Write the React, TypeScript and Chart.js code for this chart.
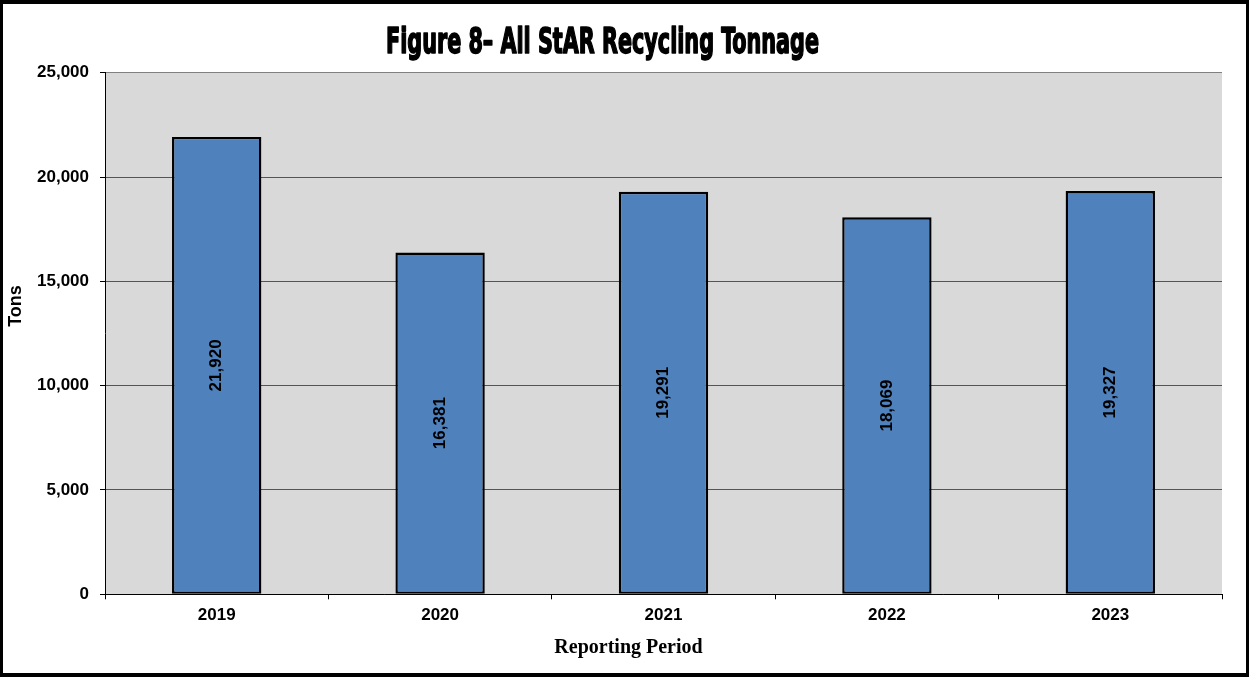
import React, { useEffect, useRef } from "react";
import { Chart, registerables } from "chart.js";

Chart.register(...registerables);

const categories = ["2019", "2020", "2021", "2022", "2023"];
const tonnage = [21920, 16381, 19291, 18069, 19327];
const chartTitle = "Figure 8\u2013 All StAR Recycling Tonnage";
const yAxisTitle = "Tons";
const xAxisTitle = "Reporting Period";
const yMax = 25000;
const yStep = 5000;

const fmt = (v: number) => v.toLocaleString("en-US");

const CANVAS_W = 1243;
const CANVAS_H = 669;

export default function App() {
  const ref = useRef<HTMLCanvasElement | null>(null);

  useEffect(() => {
    document.body.style.margin = "0";
    const canvas = ref.current;
    if (!canvas) return;

    const bgPlugin = {
      id: "plotBg",
      beforeDraw(chart: any) {
        const { ctx, chartArea } = chart;
        ctx.save();
        ctx.fillStyle = "#d9d9d9";
        ctx.fillRect(chartArea.left, chartArea.top, chartArea.right - chartArea.left, chartArea.bottom - chartArea.top);
        ctx.restore();
      },
    };

    const textPlugin = {
      id: "texts",
      afterDraw(chart: any) {
        const ctx = chart.ctx;
        // Title (condensed heavy)
        ctx.save();
        ctx.font = 'bold 35px "Liberation Sans Narrow", "DejaVu Sans Condensed", "DejaVu Sans", sans-serif';
        const w = ctx.measureText(chartTitle).width;
        const sx = 433 / w;
        ctx.translate(599.5, 49);
        ctx.scale(sx, 1);
        ctx.textAlign = "center";
        ctx.textBaseline = "alphabetic";
        ctx.fillStyle = "#000";
        ctx.fillText(chartTitle, 0, 0);
        ctx.lineWidth = 1.6;
        ctx.lineJoin = "round";
        ctx.strokeStyle = "#000";
        ctx.strokeText(chartTitle, 0, 0);
        ctx.restore();

        // Y axis title
        ctx.save();
        ctx.font = 'bold 18px "Liberation Sans", Arial, sans-serif';
        ctx.translate(13, 302);
        ctx.rotate(-Math.PI / 2);
        ctx.textAlign = "center";
        ctx.textBaseline = "middle";
        ctx.fillStyle = "#000";
        ctx.fillText(yAxisTitle, 0, 0);
        ctx.restore();

        // X axis title
        ctx.save();
        ctx.font = 'bold 20px "Liberation Serif", "Times New Roman", serif';
        ctx.textAlign = "center";
        ctx.textBaseline = "middle";
        ctx.fillStyle = "#000";
        ctx.fillText(xAxisTitle, 625.5, 644);
        ctx.restore();
      },
      afterDatasetsDraw(chart: any) {
        const ctx = chart.ctx;
        const meta = chart.getDatasetMeta(0);
        meta.data.forEach((bar: any, i: number) => {
          const p = bar.getProps(["x", "y", "base"], true);
          ctx.save();
          ctx.translate(p.x, (p.y + p.base) / 2);
          ctx.rotate(-Math.PI / 2);
          ctx.font = 'bold 17px "Liberation Sans", Arial, sans-serif';
          ctx.textAlign = "center";
          ctx.textBaseline = "middle";
          ctx.fillStyle = "#000";
          ctx.fillText(fmt(tonnage[i]), 0, 0);
          ctx.restore();
        });
      },
    };

    const chart = new Chart(canvas, {
      type: "bar",
      data: {
        labels: categories,
        datasets: [
          {
            label: "Tons",
            data: tonnage,
            backgroundColor: "#4f81bd",
            borderColor: "#000",
            borderWidth: 2.4,
            borderSkipped: false,
            barPercentage: 0.4,
            categoryPercentage: 1.0,
          },
        ],
      },
      options: {
        responsive: false,
        animation: false,
        devicePixelRatio: 1,
        layout: { padding: { top: 68.7, left: 0, right: 24, bottom: 0 } },
        plugins: {
          legend: { display: false },
          title: { display: false },
          tooltip: { enabled: false },
        },
        scales: {
          x: {
            grid: {
              display: true,
              drawOnChartArea: false,
              drawTicks: true,
              tickLength: 5,
              tickColor: "#000",
              offset: true,
            },
            border: { display: true, color: "#000", width: 1 },
            ticks: {
              color: "#000",
              font: { family: '"Liberation Sans", Arial, sans-serif', size: 17, weight: "bold" },
              padding: 6,
              maxRotation: 0,
            },
            afterFit(scale: any) {
              scale.height = 78.7;
            },
          },
          y: {
            min: 0,
            max: yMax,
            grid: {
              color: (c: any) => (c.tick && c.tick.value === yMax ? "#808080" : "#555"),
              lineWidth: 1,
              drawTicks: true,
              tickLength: 5,
              tickColor: "#000",
            },
            border: { display: true, color: "#000", width: 1 },
            ticks: {
              stepSize: yStep,
              color: "#000",
              padding: 11,
              font: { family: '"Liberation Sans", Arial, sans-serif', size: 17, weight: "bold" },
              callback: (v: any) => fmt(Number(v)),
            },
            afterFit(scale: any) {
              scale.width = 102;
            },
          },
        },
      },
      plugins: [bgPlugin, textPlugin],
    });

    return () => chart.destroy();
  }, []);

  return (
    <div
      style={{
        width: 1249,
        height: 677,
        boxSizing: "border-box",
        borderStyle: "solid",
        borderColor: "#000",
        borderWidth: "4px 3px 4px 3px",
        background: "#fff",
        overflow: "hidden",
      }}
    >
      <canvas ref={ref} width={CANVAS_W} height={CANVAS_H} style={{ display: "block", width: CANVAS_W, height: CANVAS_H }} />
    </div>
  );
}
